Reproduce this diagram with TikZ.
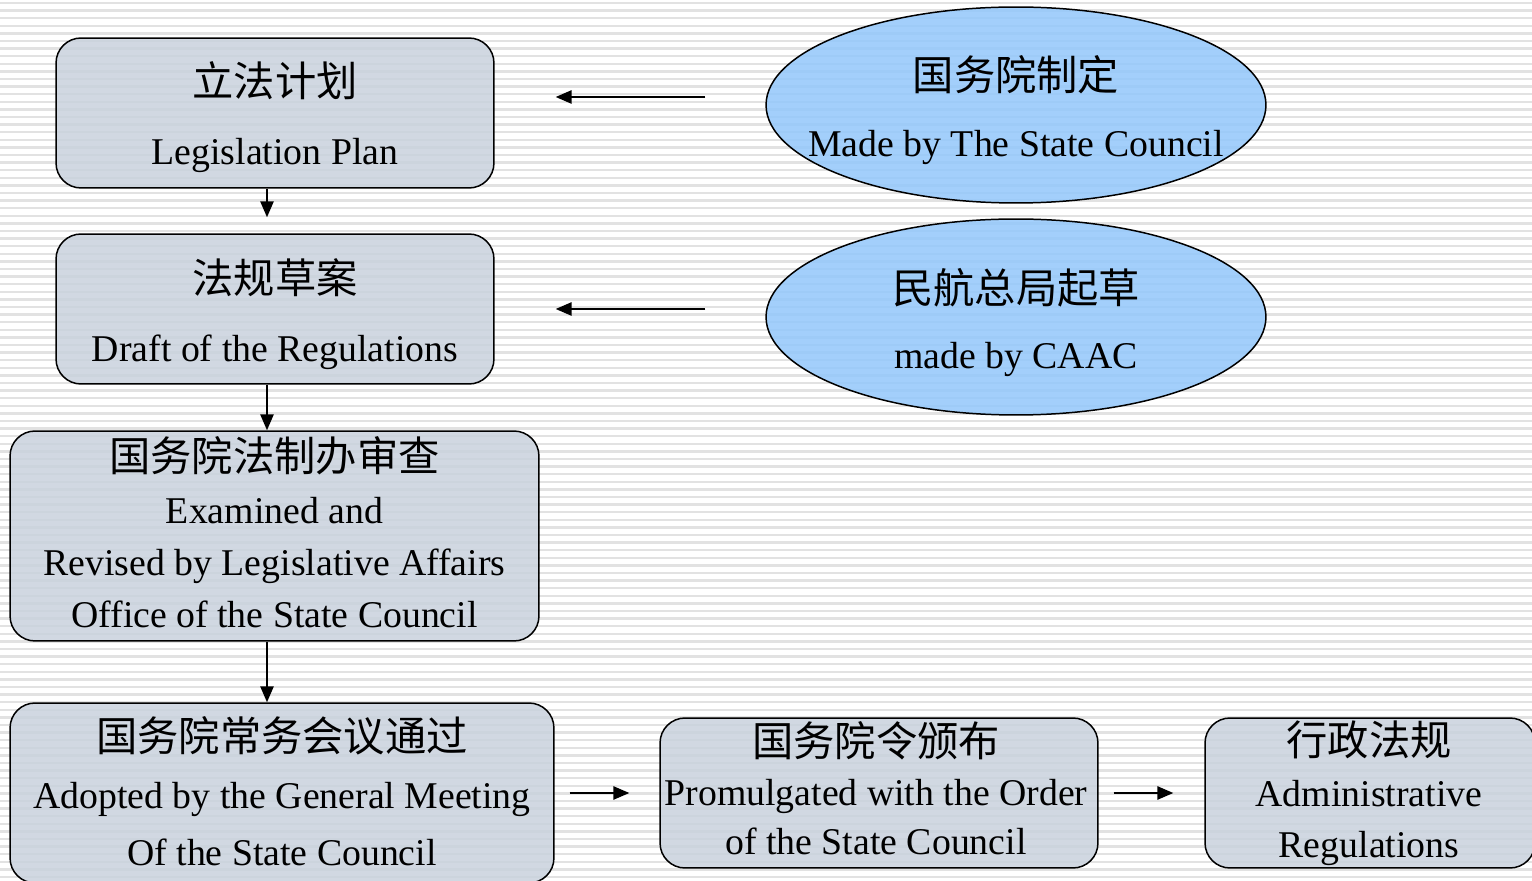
\documentclass[tikz,border=0pt]{standalone}
\usepackage{fontspec}
\setmainfont{Liberation Serif}
\newfontfamily\cjk{Noto Sans CJK SC}
\usetikzlibrary{shapes.geometric,arrows.meta}
\definecolor{boxfill}{HTML}{C9D2DD}
\definecolor{ovalfill}{HTML}{93C7FB}
\definecolor{stripegray}{HTML}{E2E2E2}
\newcommand\lines[1]{\fontsize{21.5pt}{#1pt}\selectfont}
\newcommand\zh[1]{{\cjk\fontsize{23.5pt}{23.5pt}\selectfont #1}}
\tikzset{
  box/.style={draw,rounded corners=0.5cm,fill=boxfill,fill opacity=0.85,line width=0.85pt},
  oval/.style={ellipse,draw,fill=ovalfill,fill opacity=0.85,line width=0.85pt,
    minimum width=10cm,minimum height=3.92cm},
  txt/.style={align=center,inner sep=0pt},
  arr/.style={-{Triangle[length=9pt,width=7.5pt]},line width=1pt}
}
\begin{document}
\begin{tikzpicture}[x=0.02cm,y=-0.02cm]
  \useasboundingbox (0,0) rectangle (1532,881);
  \clip (0,0) rectangle (1532,881);
  \fill[white] (0,0) rectangle (1532,881);
  \foreach \y in {3,10.6,...,881}
    \draw[stripegray,line width=1.3pt] (0,\y) -- (1532,\y);

  % left column and bottom row
  \node[box,minimum width=8.76cm,minimum height=3cm] (plan) at (275,113) {};
  \node[txt,font=\lines{38.7}] (planText) at (275,117) {\zh{立法计划}\\Legislation Plan};
  \node[box,minimum width=8.76cm,minimum height=3cm] (draft) at (275,309) {};
  \node[txt,font=\lines{38.7}] (draftText) at (275,314) {\zh{法规草案}\\Draft of the Regulations};
  \node[box,minimum width=10.58cm,minimum height=4.2cm] (exam) at (274.5,536) {};
  \node[txt,font=\lines{29.5}] (examText) at (274.5,532)
    {\zh{国务院法制办审查}\\Examined and\\Revised by Legislative Affairs\\Office of the State Council};
  \node[box,minimum width=10.88cm,minimum height=3.6cm] (adopt) at (282,793) {};
  \node[txt,font=\lines{32.4}] (adoptText) at (282,791)
    {\zh{国务院常务会议通过}\\Adopted by the General Meeting\\Of the State Council};
  \node[box,minimum width=8.76cm,minimum height=3cm] (prom) at (879,793) {};
  \node[txt,font=\lines{27.8}] (promText) at (876,788)
    {\zh{国务院令颁布}\\Promulgated with the Order\\of the State Council};
  \node[box,minimum width=6.6cm,minimum height=3cm] (admin) at (1370,793) {};
  \node[txt,font=\lines{29}] (adminText) at (1369,793) {\zh{行政法规}\\Administrative\\Regulations};

  % right column
  \node[oval] (council) at (1016,105) {};
  \node[txt,font=\lines{37.5}] (councilText) at (1016,110.5) {\zh{国务院制定}\\Made by The State Council};
  \node[oval] (caac) at (1016,317) {};
  \node[txt,font=\lines{37.5}] (caacText) at (1016,322.5) {\zh{民航总局起草}\\made by CAAC};

  % arrows
  \coordinate (vx) at (267,0);
  \coordinate (h1) at (0,97);
  \draw[arr,shorten <=1.2cm,shorten >=1.22cm] (council.west |- h1) -- (plan.east |- h1);
  \draw[arr,shorten <=1.2cm,shorten >=1.22cm] (caac.west |- draft) -- (draft.east);
  \draw[arr,shorten >=0.32cm] (plan.south -| vx) -- (draft.north -| vx);
  \draw[arr] (draft.south -| vx) -- (exam.north -| vx);
  \draw[arr] (exam.south -| vx) -- (adopt.north -| vx);
  \draw[arr,shorten <=0.3cm,shorten >=0.6cm] (adopt.east) -- (prom.west);
  \draw[arr,shorten <=0.3cm,shorten >=0.62cm] (prom.east) -- (admin.west);
\end{tikzpicture}
\end{document}
